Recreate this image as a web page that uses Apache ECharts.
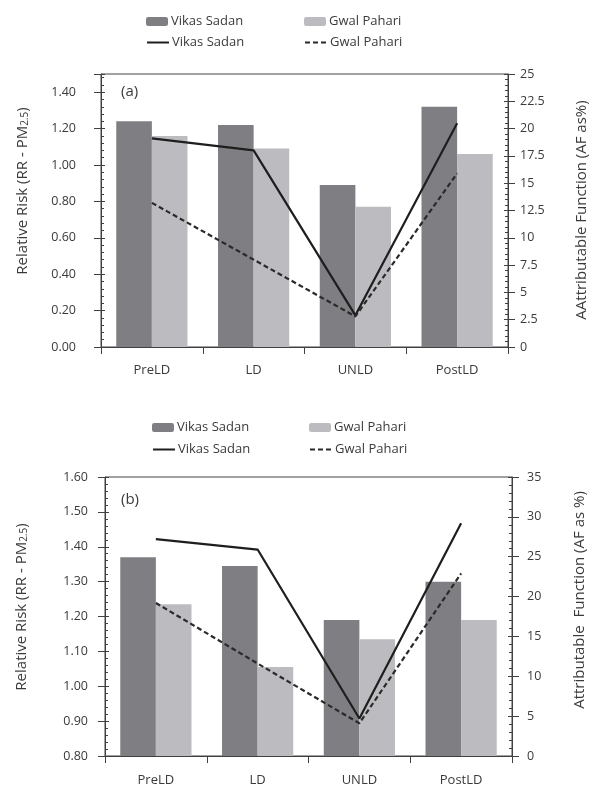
<!DOCTYPE html>
<html>
<head>
<meta charset="utf-8">
<script src="https://cdn.jsdelivr.net/npm/echarts@6/dist/echarts.min.js"></script>
<style>html,body{margin:0;padding:0;background:#fff}#c{width:592px;height:788px}</style>
</head>
<body>
<div id="c"></div>
<script>
var categories = ['PreLD', 'LD', 'UNLD', 'PostLD'];
// panel (a)
var rrVikasA = [1.24, 1.22, 0.89, 1.32];
var rrGwalA  = [1.16, 1.09, 0.77, 1.06];
var afVikasA = [19.1, 18.0, 2.9, 20.5];
var afGwalA  = [13.2, 8.0, 2.8, 15.9];
// panel (b)
var rrVikasB = [1.37, 1.345, 1.19, 1.30];
var rrGwalB  = [1.235, 1.055, 1.135, 1.19];
var afVikasB = [27.2, 25.9, 4.7, 29.2];
var afGwalB  = [19.2, 11.6, 4.1, 22.9];

var legendLabels = {
  'aBarV': 'Vikas Sadan', 'aBarG': 'Gwal Pahari', 'aLineV': 'Vikas Sadan', 'aLineG': 'Gwal Pahari',
  'bBarV': 'Vikas Sadan', 'bBarG': 'Gwal Pahari', 'bLineV': 'Vikas Sadan', 'bLineG': 'Gwal Pahari'
};
var leftTitle = ['Relative Risk (RR - PM', '2.5', ')'];
var rightTitleA = 'AAttributable Function (AF as%)';
var rightTitleB = 'Attributable  Function (AF as %)';

var FONT = 'Open Sans';
var TXT = '#3a3a3a';
var AX = '#404040';
var DARK = '#7f7f83';
var LIGHT = '#bcbcc0';
var FS = 12.5;
var NFS = 15;
var DASH = [5, 3];

function leg(name, left, top, isLine) {
  var l = {
    data: [name], left: left, top: top, padding: 0, itemWidth: 22, itemHeight: 9,
    selectedMode: false,
    formatter: function (n) { return legendLabels[n]; },
    textStyle: { fontFamily: FONT, fontSize: 13, color: TXT, padding: [0, 0, 0, -2] }
  };
  if (isLine) l.itemStyle = { opacity: 0 };
  return l;
}

function valAxis(o) {
  return {
    type: 'value', gridIndex: o.grid, position: o.pos, min: o.min, max: o.max, interval: o.interval,
    splitLine: { show: false },
    axisLine: { show: o.main, lineStyle: { color: AX, width: 1 } },
    axisTick: { show: true, inside: o.main, length: o.main ? 4 : 7, lineStyle: { color: AX } },
    minorTick: { show: o.main, splitNumber: 5, length: 3, lineStyle: { color: AX } },
    axisLabel: {
      show: o.main, margin: o.margin, color: TXT, fontFamily: FONT, fontSize: FS,
      showMaxLabel: o.showMax !== false,
      formatter: o.fmt
    }
  };
}

function catAxis(grid, margin) {
  return {
    type: 'category', gridIndex: grid, data: categories, boundaryGap: true,
    axisLine: { lineStyle: { color: AX, width: 1 } },
    axisTick: { show: true, length: 7, lineStyle: { color: AX } },
    axisLabel: { margin: margin, color: TXT, fontFamily: FONT, fontSize: 13 },
    splitLine: { show: false }
  };
}

function vTitle(x, y, text, rich) {
  var style = { text: text, fontFamily: FONT, fontSize: NFS, fill: TXT, align: 'center', verticalAlign: 'middle' };
  if (rich) {
    style.rich = {
      n: { fontFamily: FONT, fontSize: NFS, fill: TXT, lineHeight: 20, verticalAlign: 'bottom' },
      sub: { fontFamily: FONT, fontSize: 10, fill: TXT, lineHeight: 11, verticalAlign: 'bottom' }
    };
  }
  return { type: 'text', x: x, y: y, rotation: Math.PI / 2, style: style, z: 10 };
}

var fmt2 = function (v) { return v.toFixed(2); };
var leftRich = '{n|' + leftTitle[0] + '}{sub|' + leftTitle[1] + '}{n|' + leftTitle[2] + '}';

var option = {
  animation: false,
  backgroundColor: '#fff',
  textStyle: { fontFamily: FONT },
  legend: [
    leg('aBarV', 146, 15), leg('aBarG', 304, 15), leg('aLineV', 146, 36, true), leg('aLineG', 304, 36, true),
    leg('bBarV', 152, 421), leg('bBarG', 309, 421), leg('bLineV', 152, 443, true), leg('bLineG', 309, 443, true)
  ],
  grid: [
    { left: 101, top: 74, width: 407, height: 273, show: true, borderColor: '#444', borderWidth: 1, containLabel: false },
    { left: 105, top: 477, width: 407, height: 279, show: true, borderColor: '#444', borderWidth: 1, containLabel: false }
  ],
  xAxis: [catAxis(0, 17), catAxis(1, 18)],
  yAxis: [
    valAxis({ grid: 0, pos: 'left', min: 0, max: 1.5, interval: 0.2, main: true, margin: 25, showMax: false, fmt: fmt2 }),
    valAxis({ grid: 0, pos: 'right', min: 0, max: 25, interval: 2.5, main: true, margin: 12 }),
    valAxis({ grid: 0, pos: 'left', min: 0, max: 1.5, interval: 0.2, main: false }),
    valAxis({ grid: 0, pos: 'right', min: 0, max: 25, interval: 2.5, main: false }),
    valAxis({ grid: 1, pos: 'left', min: 0.8, max: 1.6, interval: 0.1, main: true, margin: 17, fmt: fmt2 }),
    valAxis({ grid: 1, pos: 'right', min: 0, max: 35, interval: 5, main: true, margin: 15 }),
    valAxis({ grid: 1, pos: 'left', min: 0.8, max: 1.6, interval: 0.1, main: false }),
    valAxis({ grid: 1, pos: 'right', min: 0, max: 35, interval: 5, main: false })
  ],
  graphic: [
    { type: 'text', left: 121, top: 84, style: { text: '(a)', fontFamily: FONT, fontSize: 15, fill: TXT } },
    { type: 'text', left: 121, top: 492, style: { text: '(b)', fontFamily: FONT, fontSize: 15, fill: TXT } },
    vTitle(20, 191, leftRich, true),
    vTitle(19, 607, leftRich, true),
    vTitle(582, 210, rightTitleA, false),
    vTitle(580, 600, rightTitleB, false)
  ],
  series: [
    { name: 'aBarV', type: 'bar', xAxisIndex: 0, yAxisIndex: 0, data: rrVikasA, barGap: '0%', barCategoryGap: '30%', itemStyle: { color: DARK }, legendIcon: 'rect', z: 2 },
    { name: 'aBarG', type: 'bar', xAxisIndex: 0, yAxisIndex: 0, data: rrGwalA, barGap: '0%', barCategoryGap: '30%', itemStyle: { color: LIGHT }, legendIcon: 'rect', z: 2 },
    { name: 'aLineV', type: 'line', xAxisIndex: 0, yAxisIndex: 1, data: afVikasA, symbol: 'none', lineStyle: { color: '#1e1e1e', width: 2.2 }, itemStyle: { color: '#1e1e1e' }, z: 5 },
    { name: 'aLineG', type: 'line', xAxisIndex: 0, yAxisIndex: 1, data: afGwalA, symbol: 'none', lineStyle: { color: '#2a2a2a', width: 2.2, type: DASH }, itemStyle: { color: '#2a2a2a' }, z: 5 },
    { name: 'bBarV', type: 'bar', xAxisIndex: 1, yAxisIndex: 4, data: rrVikasB, barGap: '0%', barCategoryGap: '30%', itemStyle: { color: DARK }, legendIcon: 'rect', z: 2 },
    { name: 'bBarG', type: 'bar', xAxisIndex: 1, yAxisIndex: 4, data: rrGwalB, barGap: '0%', barCategoryGap: '30%', itemStyle: { color: LIGHT }, legendIcon: 'rect', z: 2 },
    { name: 'bLineV', type: 'line', xAxisIndex: 1, yAxisIndex: 5, data: afVikasB, symbol: 'none', lineStyle: { color: '#1e1e1e', width: 2.2 }, itemStyle: { color: '#1e1e1e' }, z: 5 },
    { name: 'bLineG', type: 'line', xAxisIndex: 1, yAxisIndex: 5, data: afGwalB, symbol: 'none', lineStyle: { color: '#2a2a2a', width: 2.2, type: DASH }, itemStyle: { color: '#2a2a2a' }, z: 5 }
  ]
};

var chart = echarts.init(document.getElementById('c'), null, { renderer: 'canvas' });
chart.setOption(option);
</script>
</body>
</html>
